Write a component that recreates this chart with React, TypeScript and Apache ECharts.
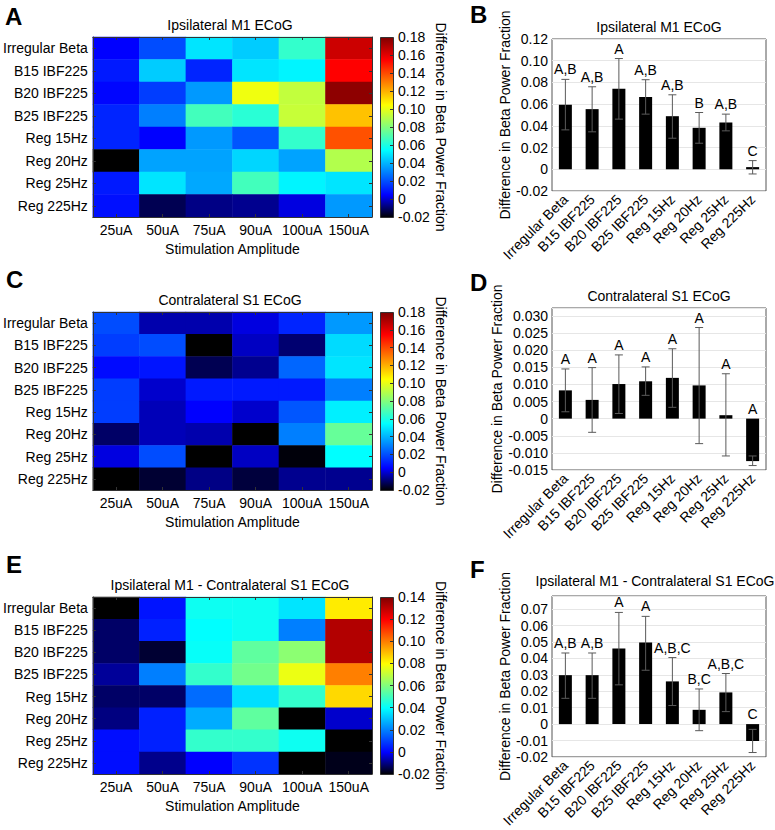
import React, { useEffect, useRef } from 'react';
import * as echarts from 'echarts';

const amplitudes = ['25uA', '50uA', '75uA', '90uA', '100uA', '150uA'];
const protocols = ['Irregular Beta', 'B15 IBF225', 'B20 IBF225', 'B25 IBF225', 'Reg 15Hz', 'Reg 20Hz', 'Reg 25Hz', 'Reg 225Hz'];

// Heatmaps: rows = protocols, columns = amplitudes
const heatM1 = [
  [0.005, 0.020, 0.050, 0.045, 0.065, 0.165],
  [0.010, 0.045, 0.012, 0.050, 0.053, 0.155],
  [0.006, 0.017, 0.035, 0.102, 0.093, 0.177],
  [0.012, 0.030, 0.068, 0.063, 0.094, 0.117],
  [0.012, 0.005, 0.035, 0.022, 0.065, 0.139],
  [-0.020, 0.037, 0.037, 0.047, 0.037, 0.090],
  [0.010, 0.050, 0.038, 0.068, 0.053, 0.050],
  [0.008, -0.012, -0.007, -0.006, 0.002, 0.035],
];
const heatS1 = [
  [0.020, -0.003, -0.003, 0.002, 0.012, 0.035],
  [0.017, 0.020, -0.020, -0.001, -0.009, 0.048],
  [0.007, 0.009, -0.012, -0.006, 0.025, 0.050],
  [0.017, 0.000, 0.010, 0.010, 0.010, 0.030],
  [0.017, -0.002, 0.005, 0.000, 0.022, 0.052],
  [-0.010, -0.002, -0.003, -0.020, 0.030, 0.075],
  [0.002, 0.020, -0.020, -0.001, -0.019, 0.055],
  [-0.020, -0.015, -0.007, -0.014, -0.006, -0.006],
];
const heatDiff = [
  [-0.020, 0.003, 0.042, 0.042, 0.036, 0.083],
  [-0.012, 0.005, 0.040, 0.042, 0.020, 0.132],
  [-0.012, -0.016, 0.041, 0.055, 0.062, 0.132],
  [-0.008, 0.020, 0.048, 0.058, 0.077, 0.100],
  [-0.012, -0.012, 0.017, 0.035, 0.048, 0.086],
  [-0.010, 0.005, 0.027, 0.055, -0.020, -0.004],
  [0.002, 0.005, 0.048, 0.048, 0.042, -0.020],
  [0.002, -0.009, 0.000, 0.008, -0.020, -0.018],
];

// Bar charts: means, error low, error high, significance letters
const meanM1 = [0.0594, 0.0554, 0.0742, 0.0665, 0.0489, 0.0382, 0.0431, 0.002];
const lowM1 = [0.0363, 0.0345, 0.0462, 0.0508, 0.0286, 0.024, 0.0354, -0.0043];
const highM1 = [0.0828, 0.076, 0.102, 0.0825, 0.0686, 0.0523, 0.0508, 0.008];
const sigM1 = ['A,B', 'A,B', 'A', 'A,B', 'A,B', 'B', 'A,B', 'C'];

const meanS1 = [0.00825, 0.00547, 0.0101, 0.0109, 0.0119, 0.0097, 0.001, -0.0124];
const lowS1 = [0.002, -0.004, 0.0015, 0.0068, 0.0033, -0.0073, -0.0109, -0.0137];
const highS1 = [0.0145, 0.0149, 0.0186, 0.0151, 0.0204, 0.0266, 0.0131, -0.0109];
const sigS1 = ['A', 'A', 'A', 'A', 'A', 'A', 'A', 'A'];

const meanDiff = [0.0298, 0.0298, 0.0461, 0.0497, 0.026, 0.0087, 0.0193, -0.0103];
const lowDiff = [0.0157, 0.0157, 0.0239, 0.0328, 0.0113, -0.004, 0.0076, -0.0173];
const highDiff = [0.0433, 0.0433, 0.068, 0.0656, 0.0405, 0.0214, 0.0308, -0.0032];
const sigDiff = ['A,B', 'A,B', 'A', 'A', 'A,B,C', 'B,C', 'A,B,C', 'C'];

const heatTitles = ['Ipsilateral M1 ECoG', 'Contralateral S1 ECoG', 'Ipsilateral M1 - Contralateral S1 ECoG'];
const colorbarMax = [0.18, 0.18, 0.14];
const barMin = [-0.02, -0.015, -0.02];
const barMax = [0.12, 0.0323, 0.078];
const barInterval = [0.02, 0.005, 0.01];
const barDecimals = [2, 3, 2];
const panelLetters = ['A', 'B', 'C', 'D', 'E', 'F'];
const yName = 'Difference in Beta Power Fraction';

const FONT = 'Liberation Sans, Arial, Helvetica, sans-serif';
const JET = ['#000000', '#0000ff', '#007fff', '#00ffff', '#7fff7f', '#ffff00', '#ff7f00', '#ff0000', '#7f0000'];

// layout
const heatLeft = 88, heatW = 284;
const heatLay = [{ top: 37, h: 180 }, { top: 312, h: 178 }, { top: 597, h: 177 }];
const cbLeft = 380, cbW = 13;
const barLeft = 552, barW = 214;
const barLay = [{ top: 39, h: 152 }, { top: 308, h: 162 }, { top: 596, h: 165 }];
const barNameGap = [34, 46, 33];
const barTitleX = [659, 659, 655];
const barTitleDy = [19, 19, 22];
const letterPos = [[5, 4], [470, 2], [6, 267], [470, 270], [6, 552], [470, 557]];

function fmt(v: number, d: number, step: number) {
  if (Math.abs(v) < 1e-9) return '0';
  const k = v / step;
  if (Math.abs(k - Math.round(k)) > 1e-6) return '';
  return v.toFixed(d);
}

export default function App() {
  const ref = useRef<HTMLDivElement>(null);
  useEffect(() => {
    document.body.style.margin = '0';
    const chart = echarts.init(ref.current!, null, { renderer: 'svg' });
    const heats = [heatM1, heatS1, heatDiff];
    const means = [meanM1, meanS1, meanDiff];
    const lows = [lowM1, lowS1, lowDiff];
    const highs = [highM1, highS1, highDiff];
    const sigs = [sigM1, sigS1, sigDiff];

    const grid: any[] = [];
    const xAxis: any[] = [];
    const yAxis: any[] = [];
    const series: any[] = [];
    const visualMap: any[] = [];
    const title: any[] = [];
    const graphic: any[] = [];

    for (let p = 0; p < 3; p++) {
      const hl = heatLay[p];
      const bl = barLay[p];
      const gH = grid.length;
      grid.push({ left: heatLeft, top: hl.top, width: heatW, height: hl.h, containLabel: false });
      const gC = grid.length;
      grid.push({ left: cbLeft, top: hl.top, width: cbW, height: hl.h, containLabel: false });
      const gB = grid.length;
      grid.push({ left: barLeft, top: bl.top, width: barW, height: bl.h, containLabel: false, show: true, borderColor: '#555', borderWidth: 1, backgroundColor: 'transparent' });

      const axLine = { show: true, lineStyle: { color: '#333', width: 1 } };
      const tickIn = { show: true, inside: true, length: 3, alignWithLabel: true, lineStyle: { color: '#333' } };

      // heatmap axes
      const xH = xAxis.length;
      xAxis.push({
        type: 'category', gridIndex: gH, data: amplitudes, position: 'bottom', z: 5,
        axisLine: axLine, axisTick: tickIn,
        axisLabel: { fontSize: 14, color: '#000', margin: 6, fontFamily: FONT, interval: 0 },
        name: 'Stimulation Amplitude', nameLocation: 'middle', nameGap: 25,
        nameTextStyle: { fontSize: 14, color: '#000', fontFamily: FONT },
      });
      xAxis.push({
        type: 'category', gridIndex: gH, data: amplitudes, position: 'top', z: 5,
        axisLine: axLine, axisTick: { ...tickIn, interval: 0 }, axisLabel: { show: false },
      });
      const yH = yAxis.length;
      yAxis.push({
        type: 'category', gridIndex: gH, data: protocols, inverse: true, position: 'left', z: 5,
        axisLine: axLine, axisTick: { ...tickIn, interval: 0 },
        axisLabel: { fontSize: 14, color: '#000', margin: 5, fontFamily: FONT, interval: 0 },
      });
      yAxis.push({
        type: 'category', gridIndex: gH, data: protocols, inverse: true, position: 'right', z: 5,
        axisLine: axLine, axisTick: { ...tickIn, interval: 0 }, axisLabel: { show: false },
      });

      // colorbar axes
      xAxis.push({ type: 'category', gridIndex: gC, data: [''], show: false });
      yAxis.push({
        type: 'value', gridIndex: gC, position: 'right', min: -0.02, max: colorbarMax[p], interval: 0.02, z: 5,
        axisLine: { show: false }, axisTick: { show: true, inside: true, length: 3, lineStyle: { color: '#333' } },
        splitLine: { show: false },
        axisLabel: { fontSize: 14, color: '#000', margin: 5, fontFamily: FONT, formatter: (v: number) => fmt(v, 2, 0.02) },
        name: yName, nameLocation: 'middle', nameRotate: -90, nameGap: 33,
        nameTextStyle: { fontSize: 14, color: '#000', fontFamily: FONT },
      });

      // bar axes
      const xB = xAxis.length;
      xAxis.push({
        type: 'category', gridIndex: gB, data: protocols,
        axisLine: { show: false }, axisTick: { show: false },
        axisLabel: { rotate: 45, fontSize: 14, color: '#000', margin: 6, fontFamily: FONT, interval: 0 },
      });
      const yB = yAxis.length;
      const d = barDecimals[p], st = barInterval[p];
      yAxis.push({
        type: 'value', gridIndex: gB, min: barMin[p], max: barMax[p], interval: st,
        axisLine: { show: false }, axisTick: { show: false },
        splitLine: { show: true, lineStyle: { color: '#e6e6e6', width: 1 } },
        axisLabel: { fontSize: 14, color: '#000', margin: 4, fontFamily: FONT, formatter: (v: number) => fmt(v, d, st), showMaxLabel: true },
        name: yName, nameLocation: 'middle', nameGap: barNameGap[p],
        nameTextStyle: { fontSize: 14, color: '#000', fontFamily: FONT },
      });

      // heatmap series
      const hData: any[] = [];
      heats[p].forEach((row, r) => row.forEach((v, c) => hData.push([c, r, v])));
      const sH = series.length;
      series.push({ type: 'heatmap', xAxisIndex: xH, yAxisIndex: yH, data: hData, z: 2, emphasis: { disabled: true } });
      visualMap.push({
        type: 'continuous', show: false, seriesIndex: sH, dimension: 2,
        min: -0.02, max: colorbarMax[p], inRange: { color: JET },
      });

      // bars
      series.push({
        type: 'bar', xAxisIndex: xB, yAxisIndex: yB, data: means[p], barWidth: 13,
        itemStyle: { color: '#000' }, z: 2,
      });
      const lo = lows[p], hi = highs[p], sg = sigs[p];
      series.push({
        type: 'custom', xAxisIndex: xB, yAxisIndex: yB, z: 4,
        data: lo.map((l, i) => [i, l, hi[i]]),
        renderItem: (params: any, api: any) => {
          const i = api.value(0);
          const a = api.coord([i, api.value(1)]);
          const b = api.coord([i, api.value(2)]);
          const t = api.coord([i, Math.max(api.value(2), 0)]);
          const hw = 4;
          const st2 = { stroke: '#5a5a5a', lineWidth: 1 };
          return {
            type: 'group',
            children: [
              { type: 'line', shape: { x1: a[0], y1: a[1], x2: b[0], y2: b[1] }, style: st2 },
              { type: 'line', shape: { x1: a[0] - hw, y1: a[1], x2: a[0] + hw, y2: a[1] }, style: st2 },
              { type: 'line', shape: { x1: b[0] - hw, y1: b[1], x2: b[0] + hw, y2: b[1] }, style: st2 },
              {
                type: 'text',
                style: {
                  text: sg[params.dataIndex], x: t[0], y: t[1] - 3, align: 'center', verticalAlign: 'bottom',
                  fontSize: 14, fontFamily: FONT, fill: '#000',
                },
              },
            ],
          };
        },
      });

      // titles
      title.push({
        text: heatTitles[p], left: heatLeft + heatW / 2, top: hl.top - 19, textAlign: 'center', padding: 0,
        textStyle: { fontSize: 14, fontWeight: 'normal', color: '#000', fontFamily: FONT },
      });
      title.push({
        text: heatTitles[p], left: barTitleX[p], top: bl.top - barTitleDy[p], textAlign: 'center', padding: 0,
        textStyle: { fontSize: 14, fontWeight: 'normal', color: '#000', fontFamily: FONT },
      });

      // colorbar
      graphic.push({
        type: 'rect', left: cbLeft, top: hl.top, z: 1,
        shape: { width: cbW, height: hl.h },
        style: {
          fill: new echarts.graphic.LinearGradient(0, 1, 0, 0, JET.map((c, k) => ({ offset: k / (JET.length - 1), color: c }))),
          stroke: '#333', lineWidth: 1,
        },
      });
    }

    panelLetters.forEach((L, k) => {
      graphic.push({
        type: 'text', left: letterPos[k][0], top: letterPos[k][1],
        style: { text: L, fontSize: 24, fontWeight: 'bold', fontFamily: FONT, fill: '#000' },
      });
    });

    chart.setOption({
      animation: false,
      backgroundColor: '#fff',
      textStyle: { fontFamily: FONT, color: '#000' },
      title, grid, xAxis, yAxis, series, visualMap, graphic,
    });
    return () => chart.dispose();
  }, []);
  return <div ref={ref} style={{ width: 775, height: 830 }} />;
}
